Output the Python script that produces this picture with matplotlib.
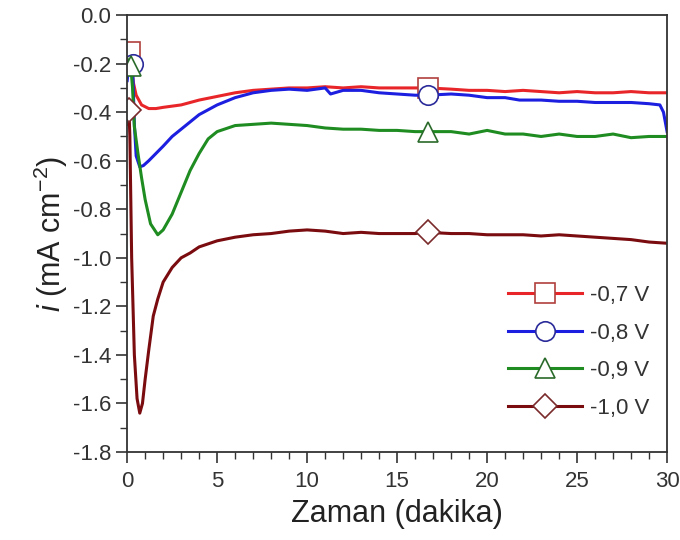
import numpy as np
import matplotlib
matplotlib.use('Agg')
import matplotlib.pyplot as plt
from matplotlib.ticker import MultipleLocator

plt.rcParams['font.family'] = ['Liberation Sans', 'DejaVu Sans']
plt.rcParams['mathtext.fontset'] = 'custom'
plt.rcParams['mathtext.rm'] = 'Liberation Sans'
plt.rcParams['mathtext.it'] = 'Liberation Sans:italic'

# -0,7 V
t_07 = [0.0, 0.15, 0.25, 0.35, 0.5, 0.8, 1.2, 1.6, 2.0, 2.5, 3.0, 3.5, 4.0, 5.0, 6.0, 7.0,
        8.0, 9.0, 10.0, 11.0, 12.0, 13.0, 14.0, 15.0, 16.0, 16.7, 18.0, 19.0, 20.0, 21.0,
        22.0, 23.0, 24.0, 25.0, 26.0, 27.0, 28.0, 29.0, 30.0]
i_07 = [-0.12, -0.15, -0.22, -0.28, -0.33, -0.37, -0.385, -0.385, -0.38, -0.375, -0.37,
        -0.36, -0.35, -0.335, -0.32, -0.31, -0.305, -0.30, -0.30, -0.295, -0.30, -0.295,
        -0.30, -0.30, -0.30, -0.30, -0.305, -0.31, -0.31, -0.315, -0.31, -0.315, -0.32,
        -0.315, -0.32, -0.32, -0.315, -0.32, -0.32]

# -0,8 V
t_08 = [0.0, 0.1, 0.3, 0.4, 0.5, 0.7, 0.9, 1.2, 1.6, 2.0, 2.5, 3.0, 3.5, 4.0, 5.0, 6.0,
        7.0, 8.0, 9.0, 10.0, 11.0, 11.3, 12.0, 13.0, 14.0, 15.0, 16.0, 16.7, 18.0, 19.0,
        20.0, 21.0, 21.8, 23.0, 24.0, 25.0, 26.0, 27.0, 28.0, 29.0, 29.6, 29.8, 30.0]
i_08 = [-0.27, -0.2, -0.2, -0.45, -0.58, -0.625, -0.62, -0.6, -0.57, -0.54, -0.5, -0.47,
        -0.44, -0.41, -0.37, -0.34, -0.32, -0.31, -0.305, -0.31, -0.30, -0.325, -0.31,
        -0.31, -0.32, -0.325, -0.33, -0.33, -0.325, -0.33, -0.34, -0.34, -0.35, -0.35,
        -0.355, -0.355, -0.36, -0.36, -0.36, -0.365, -0.37, -0.40, -0.48]

# -0,9 V
t_09 = [0.0, 0.2, 0.3, 0.4, 0.6, 0.8, 1.0, 1.3, 1.7, 2.0, 2.5, 3.0, 3.5, 4.0, 4.5, 5.0,
        6.0, 7.0, 8.0, 9.0, 10.0, 11.0, 12.0, 13.0, 14.0, 15.0, 16.0, 16.7, 18.0, 19.0,
        20.0, 21.0, 22.0, 23.0, 24.0, 25.0, 26.0, 27.0, 28.0, 29.0, 30.0]
i_09 = [-0.18, -0.21, -0.3, -0.46, -0.57, -0.67, -0.76, -0.86, -0.905, -0.885, -0.82,
        -0.73, -0.64, -0.57, -0.51, -0.48, -0.455, -0.45, -0.445, -0.45, -0.455, -0.465,
        -0.47, -0.47, -0.475, -0.475, -0.48, -0.48, -0.48, -0.49, -0.475, -0.49, -0.49,
        -0.5, -0.49, -0.5, -0.5, -0.49, -0.505, -0.5, -0.5]

# -1,0 V
t_10 = [0.0, 0.1, 0.15, 0.25, 0.4, 0.55, 0.7, 0.85, 1.0, 1.2, 1.45, 1.7, 2.0, 2.5, 3.0,
        3.5, 4.0, 5.0, 6.0, 7.0, 8.0, 9.0, 10.0, 11.0, 12.0, 13.0, 14.0, 15.0, 16.0, 16.7,
        18.0, 19.0, 20.0, 21.0, 22.0, 23.0, 24.0, 25.0, 26.0, 27.0, 28.0, 29.0, 30.0]
i_10 = [-0.45, -0.39, -0.5, -1.0, -1.4, -1.58, -1.64, -1.6, -1.5, -1.38, -1.24, -1.17,
        -1.1, -1.04, -1.0, -0.98, -0.955, -0.93, -0.915, -0.905, -0.9, -0.89, -0.885,
        -0.89, -0.9, -0.895, -0.9, -0.9, -0.9, -0.895, -0.9, -0.9, -0.905, -0.905, -0.905,
        -0.91, -0.905, -0.91, -0.915, -0.92, -0.925, -0.935, -0.94]

# times where the curves carry a symbol
mark_t = {'-0,7 V': [0.15, 16.7], '-0,8 V': [0.3, 16.7],
          '-0,9 V': [0.2, 16.7], '-1,0 V': [0.1, 16.7]}

series = [
    ('-0,7 V', t_07, i_07, '#e8262a', '#b0403c', 's'),
    ('-0,8 V', t_08, i_08, '#1c1ee0', '#2a2a9a', 'o'),
    ('-0,9 V', t_09, i_09, '#1f8c22', '#2a6a2a', '^'),
    ('-1,0 V', t_10, i_10, '#7a0c10', '#7a2a2a', 'D'),
]

fig = plt.figure(figsize=(6.8, 5.4), dpi=100)
ax = fig.add_axes([0.187, 0.163, 0.794, 0.809])

for name, t, i, col, ecol, mk in series:
    t = np.array(t)
    idx = [int(np.argmin(np.abs(t - m))) for m in mark_t[name]]
    ax.plot(t, i, color=col, lw=2.2, label=name, marker=mk, markevery=idx,
            markersize=14 if mk != 'D' else 12, markerfacecolor='white',
            markeredgecolor=ecol, markeredgewidth=1.2)

ax.set_xlim(0, 30)
ax.set_ylim(-1.8, 0.0)
ax.xaxis.set_major_locator(MultipleLocator(5))
ax.xaxis.set_minor_locator(MultipleLocator(1))
ax.yaxis.set_major_locator(MultipleLocator(0.2))
ax.yaxis.set_minor_locator(MultipleLocator(0.1))
ax.yaxis.set_major_formatter(plt.FormatStrFormatter('%.1f'))
ax.tick_params(which='major', direction='out', length=8, width=1.2, labelsize=16,
               colors='#333333', labelcolor='#333333')
ax.tick_params(axis='x', which='major', pad=6)
ax.tick_params(which='minor', direction='out', length=5, width=1.0, colors='#333333')
for s in ax.spines.values():
    s.set_linewidth(1.3)
    s.set_color('#333333')

ax.set_xlabel('Zaman (dakika)', fontsize=22, color='#222222', labelpad=5)
ax.set_ylabel(r'$\it{i}$ (mA cm$^{-2}$)', fontsize=22, color='#222222', labelpad=2)

ax.legend(loc='lower right', bbox_to_anchor=(1.005, 0.03), frameon=False, fontsize=16,
          handlelength=3.3, numpoints=1, labelspacing=0.75, handletextpad=0.4,
          labelcolor='#333333')

fig.savefig('out.png', dpi=100)
